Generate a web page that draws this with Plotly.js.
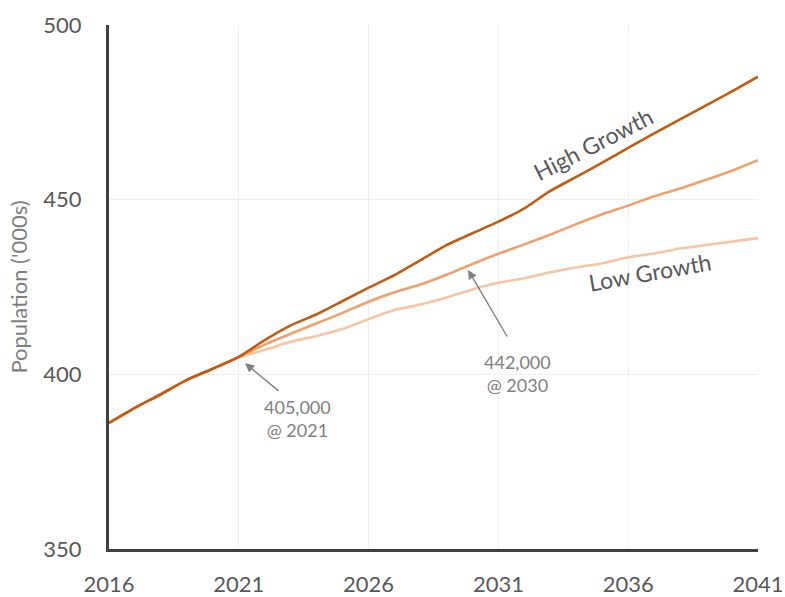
<!DOCTYPE html>
<html>
<head>
<meta charset="utf-8">
<script src="https://cdn.plot.ly/plotly-3.0.1.min.js"></script>
<style>html,body{margin:0;padding:0;background:#fff;}#chart{width:785px;height:597px;}</style>
</head>
<body>
<div id="chart"></div>
<script>
// Years
const years = [2016,2017,2018,2019,2020,2021,2022,2023,2024,2025,2026,2027,2028,2029,2030,2031,2032,2033,2034,2035,2036,2037,2038,2039,2040,2041];
// Population ('000s)
const highGrowth = [386.1,390.4,394.3,398.4,401.6,405.0,409.8,414.0,417.2,421.0,424.8,428.4,432.7,437.0,440.4,443.7,447.5,452.5,456.5,460.6,464.8,469.0,473.0,477.0,481.0,485.2];
const mediumGrowth = [386.1,390.4,394.3,398.4,401.6,405.0,408.5,411.6,414.6,417.6,420.8,423.5,425.7,428.5,431.6,434.5,437.2,440.0,443.0,445.8,448.3,451.0,453.2,455.7,458.3,461.3];
const lowGrowth = [386.1,390.4,394.3,398.4,401.6,404.8,407.0,409.3,411.0,413.0,415.8,418.4,420.0,422.0,424.3,426.2,427.5,429.2,430.6,431.8,433.5,434.6,436.0,437.0,438.0,439.0];
const xTicks = [2016,2021,2026,2031,2036,2041];
const yTicks = [350,400,450,500];

const traces = [
  {x: years, y: lowGrowth, type: 'scatter', mode: 'lines', name: 'Low Growth',
   line: {color: '#f8c4a3', width: 2.6, shape: 'spline', smoothing: 0.6}},
  {x: years, y: mediumGrowth, type: 'scatter', mode: 'lines', name: 'Medium Growth',
   line: {color: '#f1a06c', width: 2.6, shape: 'spline', smoothing: 0.6}},
  {x: years, y: highGrowth, type: 'scatter', mode: 'lines', name: 'High Growth',
   line: {color: '#c55a11', width: 2.6, shape: 'spline', smoothing: 0.6}}
];

const annFont = {family: 'Lato, sans-serif', size: 18, color: '#808080'};
const labFont = {family: 'Lato, sans-serif', size: 23, color: '#595959'};

const layout = {
  width: 785, height: 597,
  margin: {l: 109, r: 27, t: 25, b: 48},
  paper_bgcolor: '#ffffff', plot_bgcolor: '#ffffff',
  showlegend: false,
  font: {family: 'Lato, sans-serif', color: '#595959'},
  xaxis: {
    range: [2016, 2041], tickvals: xTicks, ticktext: xTicks.map(String),
    showgrid: true, gridcolor: '#efefef', gridwidth: 1,
    showline: true, linecolor: '#404040', linewidth: 3,
    zeroline: false, ticks: '', ticklabelstandoff: 14,
    tickfont: {family: 'Lato, sans-serif', size: 22, color: '#595959'}
  },
  yaxis: {
    range: [350, 500], tickvals: yTicks, ticktext: yTicks.map(String),
    showgrid: true, gridcolor: '#efefef', gridwidth: 1,
    showline: true, linecolor: '#404040', linewidth: 3,
    zeroline: false, ticks: '', ticklabelstandoff: 20,
    tickfont: {family: 'Lato, sans-serif', size: 22, color: '#595959'},
    title: {text: "Population ('000s)", standoff: 10,
            font: {family: 'Lato, sans-serif', size: 22, color: '#7f7f7f'}}
  },
  annotations: [
    {x: 2021.24, y: 403.2, xref: 'x', yref: 'y', ax: 2022.59, ay: 394.9, axref: 'x', ayref: 'y',
     text: '', showarrow: true, arrowhead: 2, arrowsize: 1.3, arrowwidth: 1.4, arrowcolor: '#808080'},
    {x: 2023.28, y: 387.4, xref: 'x', yref: 'y', text: '405,000<br>@ 2021', showarrow: false, font: annFont},
    {x: 2029.83, y: 429.9, xref: 'x', yref: 'y', ax: 2031.37, ay: 410.4, axref: 'x', ayref: 'y',
     text: '', showarrow: true, arrowhead: 2, arrowsize: 1.3, arrowwidth: 1.4, arrowcolor: '#808080'},
    {x: 2031.72, y: 400.1, xref: 'x', yref: 'y', text: '442,000<br>@ 2030', showarrow: false, font: annFont},
    {x: 2034.65, y: 466.0, xref: 'x', yref: 'y', text: 'High Growth', textangle: -27, showarrow: false, font: labFont},
    {x: 2036.84, y: 429.3, xref: 'x', yref: 'y', text: 'Low Growth', textangle: -10, showarrow: false, font: labFont}
  ]
};

Plotly.newPlot('chart', traces, layout, {displayModeBar: false, staticPlot: true});
</script>
</body>
</html>
